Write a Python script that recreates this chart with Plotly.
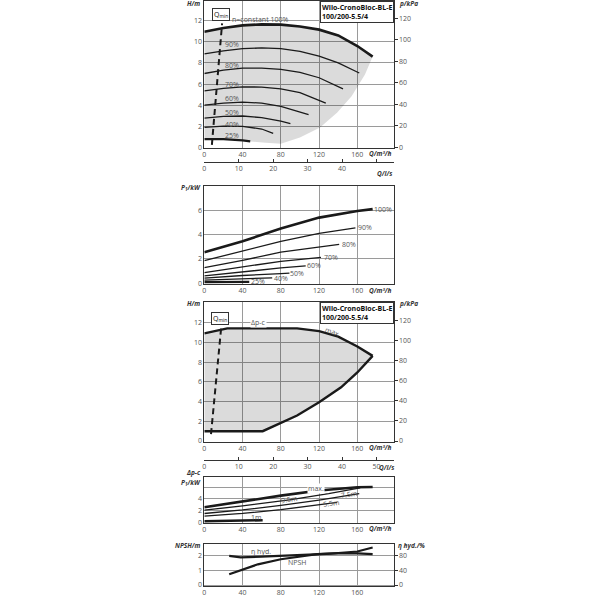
import plotly.graph_objects as go

# ---------------- data ----------------
# Panel 1: H/m vs Q/m3/h at various speeds
Q100 = [0, 20, 40, 60, 80, 100, 120, 140, 160, 176]
H100 = [10.95, 11.3, 11.55, 11.65, 11.62, 11.45, 11.15, 10.6, 9.6, 8.6]
Q90 = [0, 20, 40, 60, 80, 100, 120, 140, 162]
H90 = [8.85, 9.15, 9.35, 9.42, 9.35, 9.1, 8.65, 8.0, 7.05]
Q80 = [0, 20, 40, 60, 80, 100, 120, 145]
H80 = [7.0, 7.33, 7.5, 7.5, 7.4, 7.1, 6.6, 5.55]
Q70 = [0, 20, 40, 60, 80, 100, 127]
H70 = [5.35, 5.6, 5.73, 5.72, 5.55, 5.2, 4.2]
Q60 = [0, 20, 40, 60, 80, 109]
H60 = [4.0, 4.2, 4.3, 4.2, 3.9, 3.1]
Q50 = [0, 20, 40, 60, 80, 90]
H50 = [2.78, 2.95, 2.98, 2.82, 2.5, 2.25]
Q40 = [0, 20, 40, 60, 72]
H40 = [1.9, 2.03, 2.0, 1.75, 1.33]
Q25 = [0, 20, 40, 48]
H25 = [0.8, 0.8, 0.68, 0.58]
# right/lower boundary of operating field (panel 1)
env_Q = [176, 168, 154, 139, 121, 100, 80, 64, 48]
env_H = [8.6, 6.9, 4.86, 3.3, 1.9, 0.94, 0.35, 0.45, 0.58]
# Qmin line
qmin1_Q = [7.9, 18.6]
qmin1_H = [0.25, 11.75]
speed_labels = ["90%", "80%", "70%", "60%", "50%", "40%", "25%"]
speed_label_H = [9.7, 7.74, 6.0, 4.6, 3.3, 2.13, 1.16]

# tick labels
h_ticks = [0, 2, 4, 6, 8, 10, 12]
kpa_ticks = [0, 20, 40, 60, 80, 100, 120]
p_ticks = [0, 2, 4, 6]
p_text_2 = ["0", "2", "4", "6"]
p_text_4 = ["0", "2", "4", ""]
npsh_ticks = [0, 1, 2]
eta_ticks = [0, 40, 80]
ls_ticks = [0, 10, 20, 30, 40, 50]
ls_text_1 = ["0", "10", "20", "30", "40", ""]
ls_text_3 = ["0", "10", "20", "30", "40", "50"]

# Panel 2: P1/kW
PQ100 = [0, 40, 80, 120, 160, 176]; P100 = [2.55, 3.45, 4.5, 5.4, 5.95, 6.1]
PQ90 = [0, 40, 80, 120, 158]; P90 = [1.85, 2.65, 3.45, 4.1, 4.55]
PQ80 = [0, 40, 80, 120, 141]; P80 = [1.28, 1.88, 2.55, 3.0, 3.19]
PQ70 = [0, 40, 80, 122]; P70 = [0.87, 1.36, 1.8, 2.12]
PQ60 = [0, 40, 80, 106]; P60 = [0.6, 0.95, 1.25, 1.42]
PQ50 = [0, 40, 80, 89]; P50 = [0.41, 0.63, 0.78, 0.82]
PQ40 = [0, 40, 71]; P40 = [0.25, 0.35, 0.44]
PQ25 = [0, 47]; P25 = [0.08, 0.11]
p_labels = ["100%", "90%", "80%", "70%", "60%", "50%", "40%", "25%"]
p_label_Q = [187, 168, 151, 132, 115, 97, 80, 56]
p_label_P = [6.09, 4.57, 3.2, 2.13, 1.42, 0.82, 0.38, 0.1]

# Panel 3: dp-c field
top3_Q = [0, 24, 97, 120, 140, 160, 176]
top3_H = [10.92, 11.43, 11.43, 11.15, 10.6, 9.6, 8.64]
low3_Q = [176, 160, 143, 120, 97, 80, 61, 0]
low3_H = [8.64, 6.96, 5.45, 3.93, 2.59, 1.82, 1.0, 1.0]
qmin3_Q = [7.0, 18.0]
qmin3_H = [0.7, 11.9]

# Panel 4: P1 at dp-c
DQmax = [0, 40, 80, 120, 160, 176]; Dmax = [2.57, 3.6, 4.57, 5.45, 6.0, 6.06]
DQ95 = [0, 40, 89, 130, 163]; D95 = [2.06, 2.8, 3.85, 4.9, 5.9]
DQ75 = [0, 40, 80, 120, 162]; D75 = [1.49, 2.1, 2.9, 3.8, 4.9]
DQ55 = [0, 40, 80, 120, 139]; D55 = [1.03, 1.5, 2.15, 2.95, 3.4]
DQ1 = [0, 61]; D1 = [0.17, 0.34]

# Panel 5: NPSH and hydraulic efficiency
NQ = [26, 40, 56, 80, 100, 118, 140, 160, 176]
NPSH = [0.72, 1.05, 1.39, 1.73, 1.93, 2.07, 2.15, 2.25, 2.52]
EQ = [26, 38, 60, 80, 100, 120, 140, 160, 176]
ETA = [78, 74.5, 76, 78, 81, 84, 85, 85, 83]

# ---------------- styling ----------------
FONT = "Open Sans"
INK = "#1a1a1a"
TXT = "#555555"
GRID = "#9a9a9a"
AX = "#333333"
FILL = "rgba(0,0,0,0.14)"
W = 600.0

def py(p):  # pixel y -> paper
    return 1 - p / W

def px(p):
    return p / W

XDOM = [px(203), px(393)]
XR = [0, 198]

fig = go.Figure()

def line(x, y, xa, ya, w=1.3, color=INK, dash=None):
    fig.add_trace(go.Scatter(x=x, y=y, xaxis=xa, yaxis=ya, mode="lines",
                             line=dict(color=color, width=w, dash=dash),
                             hoverinfo="skip", showlegend=False))

def dummy(xa, ya):
    fig.add_trace(go.Scatter(x=[0], y=[0], xaxis=xa, yaxis=ya, mode="markers",
                             marker=dict(opacity=0), hoverinfo="skip", showlegend=False))

# Panel 1 field
fx = Q100 + env_Q[1:] + Q25[::-1][1:] + [0]
fy = H100 + env_H[1:] + H25[::-1][1:] + [H100[0]]
fig.add_trace(go.Scatter(x=fx, y=fy, xaxis="x", yaxis="y", mode="lines", fill="toself",
                         fillcolor=FILL, line=dict(width=0), hoverinfo="skip", showlegend=False))
line(Q100, H100, "x", "y", 2.6)
for q, h in [(Q90, H90), (Q80, H80), (Q70, H70), (Q60, H60), (Q50, H50), (Q40, H40)]:
    line(q, h, "x", "y", 1.3)
line(Q25, H25, "x", "y", 2.2)
line(qmin1_Q, qmin1_H, "x", "y", 2.0, dash="6px,4px")
dummy("x", "y2")
dummy("x6", "y")

# Panel 2
line(PQ100, P100, "x2", "y3", 2.6)
for q, p in [(PQ90, P90), (PQ80, P80), (PQ70, P70), (PQ60, P60), (PQ50, P50), (PQ40, P40)]:
    line(q, p, "x2", "y3", 1.3)
line(PQ25, P25, "x2", "y3", 2.2)

# Panel 3
f3x = top3_Q + low3_Q[1:]
f3y = top3_H + low3_H[1:]
fig.add_trace(go.Scatter(x=f3x, y=f3y, xaxis="x3", yaxis="y4", mode="lines", fill="toself",
                         fillcolor=FILL, line=dict(width=0), hoverinfo="skip", showlegend=False))
line(top3_Q, top3_H, "x3", "y4", 2.4)
line(low3_Q, low3_H, "x3", "y4", 2.4)
line(qmin3_Q, qmin3_H, "x3", "y4", 2.0, dash="6px,4px")
dummy("x3", "y5")
dummy("x7", "y4")

# Panel 4
line(DQmax, Dmax, "x4", "y6", 2.6)
line(DQ95, D95, "x4", "y6", 1.3)
line(DQ75, D75, "x4", "y6", 1.3)
line(DQ55, D55, "x4", "y6", 1.3)
line(DQ1, D1, "x4", "y6", 2.6)

# Panel 5
line(NQ, NPSH, "x5", "y7", 2.2)
line(EQ, ETA, "x5", "y8", 2.2)

# ---------------- axes ----------------
tickf = dict(family=FONT, size=7, color=TXT)

def xax(anchor):
    return dict(domain=XDOM, range=XR, tick0=0, dtick=40, showgrid=True, gridcolor=GRID,
                gridwidth=1, showline=True, linecolor=AX, linewidth=1, mirror=True,
                ticks="", tickfont=tickf, zeroline=False, anchor=anchor, fixedrange=True)

def yax(dom, rng, vals, texts, anchor):
    return dict(domain=dom, range=rng, tickvals=vals, ticktext=texts, showgrid=True,
                gridcolor=GRID, gridwidth=1, showline=True, linecolor=AX, linewidth=1,
                mirror=True, ticks="", tickfont=tickf, zeroline=False, anchor=anchor,
                fixedrange=True)

def yright(over, anchor, rng, vals):
    return dict(overlaying=over, side="right", anchor=anchor, range=rng, tickvals=vals,
                ticktext=[str(v) for v in vals],
                showgrid=False, ticks="outside", ticklen=3, tickcolor=AX, tickfont=tickf,
                zeroline=False, showline=False, fixedrange=True)

def xls(over, ypix, texts):
    return dict(domain=XDOM, range=[XR[0] / 3.6, XR[1] / 3.6], tickvals=ls_ticks, ticktext=texts,
                anchor="free", overlaying=over, position=py(ypix), side="bottom", showline=True,
                linecolor=AX, linewidth=1, ticks="inside", ticklen=3, tickcolor=AX,
                showgrid=False, tickfont=tickf, zeroline=False, fixedrange=True)

R1 = [0, 13.86]
R2 = [-0.08, 7.97]
R3 = [-0.05, 14.11]
R4 = [-0.14, 7.69]
R5 = [-0.07, 2.73]
D1 = [py(148.5), py(1)]
D2 = [py(286), py(187.7)]
D3 = [py(444.5), py(304)]
D4 = [py(526.5), py(480.7)]
D5 = [py(590), py(548)]

K = 9.81
hs = [str(v) for v in h_ticks]
fig.update_layout(
    width=600, height=600, autosize=False,
    margin=dict(l=0, r=0, t=0, b=0),
    paper_bgcolor="white", plot_bgcolor="white",
    font=dict(family=FONT, size=7, color=TXT),
    xaxis=xax("y"), yaxis=yax(D1, R1, h_ticks, hs, "x"),
    yaxis2=yright("y", "x", [R1[0] * K, R1[1] * K], kpa_ticks),
    xaxis6=xls("x", 163, ls_text_1),
    xaxis2=xax("y3"), yaxis3=yax(D2, R2, p_ticks, p_text_2, "x2"),
    xaxis3=xax("y4"), yaxis4=yax(D3, R3, h_ticks, hs, "x3"),
    yaxis5=yright("y4", "x3", [R3[0] * K, R3[1] * K], kpa_ticks),
    xaxis7=xls("x3", 463, ls_text_3),
    xaxis4=xax("y6"), yaxis6=yax(D4, R4, p_ticks, p_text_4, "x4"),
    xaxis5=xax("y7"), yaxis7=yax(D5, R5, npsh_ticks, [str(v) for v in npsh_ticks], "x5"),
    yaxis8=yright("y7", "x5", [R5[0] * 40, R5[1] * 40], eta_ticks),
)

ann = []

def t(x, y, text, xref, yref, size=7, color=TXT, xanchor="center", yanchor="middle",
      bg=None, angle=0, italic=False, bold=False):
    if italic:
        text = "<i>" + text + "</i>"
    if bold:
        text = "<b>" + text + "</b>"
    d = dict(x=x, y=y, xref=xref, yref=yref, text=text, showarrow=False,
             font=dict(family=FONT, size=size, color=color), xanchor=xanchor, yanchor=yanchor,
             textangle=angle)
    if bg:
        d.update(bgcolor=bg, borderpad=0)
    ann.append(d)

def pt(xpix, ypix, text, xanchor="center"):
    t(px(xpix), py(ypix), text, "paper", "paper", 6.5, "#333", xanchor=xanchor,
      italic=True, bold=True)

pt(201, 4, "H/m", "right"); pt(396, 4, "p/kPa", "left")
pt(393, 155, "Q/m³/h", "right"); pt(393, 175, "Q/l/s", "right")
pt(202, 189, "P<sub>1</sub>/kW", "right"); pt(393, 292, "Q/m³/h", "right")
pt(201, 306, "H/m", "right"); pt(396, 306, "p/kPa", "left")
pt(393, 450, "Q/m³/h", "right"); pt(395, 471, "Q/l/s", "right")
pt(202, 476, "Δp-c", "right"); pt(202, 486, "P<sub>1</sub>/kW", "right")
pt(393, 532, "Q/m³/h", "right")
pt(202, 549, "NPSH/m", "right"); pt(395, 549, "η hyd./%", "left")

# title boxes
for xr, yr in [("x domain", "y domain"), ("x3 domain", "y4 domain")]:
    ann.append(dict(x=1, y=1, xref=xr, yref=yr, xanchor="right", yanchor="top",
                    text="<b>Wilo-CronoBloc-BL-E</b><br><b>100/200-5.5/4</b>", align="left",
                    showarrow=False, bgcolor="white", bordercolor=AX, borderwidth=1, borderpad=1,
                    font=dict(family=FONT, size=7, color="#111")))

# Qmin boxes
for xr, yr, qx, qy in [("x", "y", 17, 12.6), ("x3", "y4", 16, 12.45)]:
    ann.append(dict(x=qx, y=qy, xref=xr, yref=yr, text="Q<sub>min</sub>", showarrow=False,
                    bgcolor="white", bordercolor=AX, borderwidth=1, borderpad=1,
                    font=dict(family=FONT, size=7, color="#111")))

# panel 1 labels
t(58, 12.13, "n=constant 100%", "x", "y")
for lab, h in zip(speed_labels, speed_label_H):
    t(29, h, lab, "x", "y")
# panel 2 labels
for lab, q, p in zip(p_labels, p_label_Q, p_label_P):
    t(q, p, lab, "x2", "y3")
# panel 3 labels
t(57, 12.0, "Δp-c", "x3", "y4", bg="white")
t(133, 11.1, "max", "x3", "y4", angle=20)
# panel 4 labels
t(117, 5.75, "max.", "x4", "y6", bg="white")
t(89, 3.9, "9.5m", "x4", "y6", angle=-8)
t(151, 4.7, "7.5m", "x4", "y6", angle=-8)
t(132, 3.25, "5.5m", "x4", "y6", angle=-8)
t(54, 0.85, "1m", "x4", "y6")
# panel 5 labels
t(59, 2.27, "η hyd.", "x5", "y7")
t(97, 1.49, "NPSH", "x5", "y7")

fig.update_layout(annotations=ann)
fig.write_html("out.html", config={"displayModeBar": False},
               post_script="document.body.style.margin='0';")
